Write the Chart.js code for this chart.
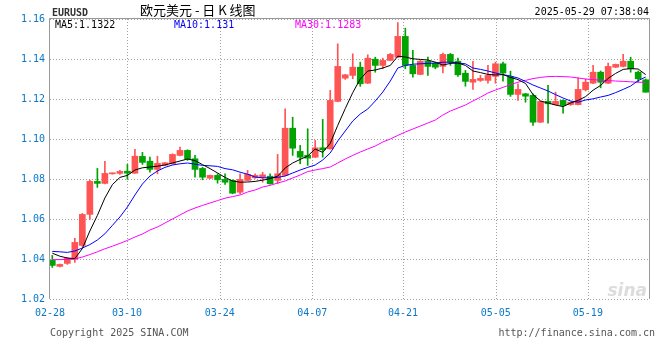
<!DOCTYPE html>
<html>
<head>
<meta charset="utf-8">
<script src="https://cdn.jsdelivr.net/npm/chart.js@4.4.1/dist/chart.umd.min.js"></script>
<style>
  html, body { margin: 0; padding: 0; background: #fff; }
</style>
</head>
<body>
<canvas id="kline" width="660" height="360"></canvas>
<script>
// daily candles, 02-28 .. 05-29
const opens = [1.0393,1.0363,1.0378,1.0398,1.0468,1.0623,1.0788,1.0778,1.0826,1.0828,
  1.0839,1.0829,1.0913,1.0889,1.0848,1.0869,1.0876,1.0918,1.0943,1.0901,
  1.0853,1.0804,1.0818,1.0798,1.0793,1.0734,1.0793,1.0806,1.0809,1.0814,
  1.0793,1.0818,1.1054,1.0938,1.0918,1.0909,1.0956,1.0951,1.1188,1.1304,
  1.1318,1.1359,1.1279,1.1399,1.1368,1.1393,1.1409,1.1513,1.1368,1.1323,
  1.1389,1.1379,1.1363,1.1423,1.1389,1.1329,1.1284,1.1293,1.1293,1.1313,
  1.1376,1.1309,1.1223,1.1226,1.1218,1.1084,1.1188,1.1172,1.1193,1.1172,
  1.1172,1.1246,1.1279,1.1334,1.1279,1.1359,1.1363,1.1389,1.1334,1.1296];
const highs = [1.0418,1.0375,1.0408,1.0503,1.0628,1.0793,1.0853,1.0888,1.0830,1.0843,
  1.0873,1.0948,1.0933,1.0909,1.0914,1.0883,1.0926,1.0959,1.0946,1.0918,
  1.0859,1.0820,1.0826,1.0826,1.0796,1.0826,1.0843,1.0826,1.0834,1.0826,
  1.0923,1.1151,1.1109,1.0968,1.1051,1.0993,1.1098,1.1243,1.1476,1.1323,
  1.1426,1.1384,1.1421,1.1409,1.1404,1.1428,1.1582,1.1554,1.1443,1.1394,
  1.1409,1.1384,1.1429,1.1428,1.1404,1.1343,1.1388,1.1318,1.1368,1.1384,
  1.1384,1.1339,1.1276,1.1228,1.1226,1.1190,1.1268,1.1234,1.1196,1.1186,
  1.1306,1.1300,1.1368,1.1340,1.1379,1.1375,1.1423,1.1409,1.1340,1.1300];
const lows = [1.0358,1.0360,1.0373,1.0383,1.0463,1.0598,1.0758,1.0775,1.0824,1.0823,
  1.0798,1.0828,1.0873,1.0834,1.0826,1.0867,1.0874,1.0916,1.0893,1.0809,
  1.0796,1.0802,1.0779,1.0773,1.0726,1.0726,1.0791,1.0803,1.0784,1.0774,
  1.0776,1.0816,1.0918,1.0876,1.0868,1.0907,1.0909,1.0949,1.1186,1.1298,
  1.1301,1.1263,1.1277,1.1334,1.1351,1.1391,1.1407,1.1351,1.1309,1.1321,
  1.1318,1.1351,1.1331,1.1368,1.1313,1.1264,1.1248,1.1288,1.1279,1.1279,
  1.1289,1.1213,1.1193,1.1184,1.1068,1.1082,1.1079,1.1170,1.1129,1.1168,
  1.1170,1.1240,1.1277,1.1256,1.1277,1.1357,1.1361,1.1334,1.1284,1.1234];
const closes = [1.0368,1.0373,1.0403,1.0483,1.0623,1.0788,1.0778,1.0828,1.0830,1.0838,
  1.0829,1.0914,1.0883,1.0848,1.0878,1.0881,1.0923,1.0943,1.0901,1.0848,
  1.0809,1.0818,1.0796,1.0784,1.0729,1.0798,1.0823,1.0818,1.0821,1.0776,
  1.0826,1.1054,1.0954,1.0909,1.0904,1.0956,1.0946,1.1193,1.1363,1.1321,
  1.1359,1.1276,1.1404,1.1368,1.1393,1.1423,1.1513,1.1368,1.1326,1.1389,
  1.1363,1.1359,1.1423,1.1384,1.1321,1.1288,1.1298,1.1303,1.1318,1.1376,
  1.1330,1.1223,1.1248,1.1214,1.1084,1.1188,1.1176,1.1188,1.1168,1.1184,
  1.1248,1.1284,1.1334,1.1284,1.1363,1.1373,1.1389,1.1351,1.1301,1.1234];

const ma5 = [1.0429,1.0414,1.0405,1.0402,1.0452,1.0540,1.0618,1.0705,1.0772,1.0808,
  1.0818,1.0845,1.0856,1.0860,1.0864,1.0870,1.0880,1.0890,1.0900,1.0892,
  1.0872,1.0852,1.0830,1.0808,1.0790,1.0784,1.0785,1.0788,1.0794,1.0802,
  1.0814,1.0855,1.0880,1.0898,1.0915,1.0950,1.0933,1.0978,1.1068,1.1152,
  1.1232,1.1300,1.1340,1.1345,1.1355,1.1368,1.1414,1.1410,1.1401,1.1398,
  1.1395,1.1384,1.1370,1.1378,1.1380,1.1368,1.1340,1.1332,1.1323,1.1320,
  1.1322,1.1308,1.1297,1.1278,1.1222,1.1190,1.1180,1.1170,1.1162,1.1180,
  1.1193,1.1212,1.1244,1.1268,1.1303,1.1328,1.1348,1.1352,1.1350,1.1322];
const ma10 = [1.0438,1.0436,1.0433,1.0440,1.0455,1.0472,1.0495,1.0526,1.0568,1.0610,
  1.0660,1.0720,1.0775,1.0815,1.0840,1.0858,1.0870,1.0876,1.0880,1.0874,
  1.0868,1.0866,1.0863,1.0852,1.0846,1.0834,1.0824,1.0810,1.0806,1.0806,
  1.0808,1.0815,1.0830,1.0845,1.0858,1.0870,1.0895,1.0930,1.0990,1.1040,
  1.1090,1.1125,1.1150,1.1190,1.1235,1.1290,1.1355,1.1368,1.1374,1.1376,
  1.1378,1.1380,1.1384,1.1384,1.1380,1.1376,1.1355,1.1348,1.1340,1.1330,
  1.1322,1.1315,1.1305,1.1288,1.1270,1.1255,1.1240,1.1222,1.1205,1.1190,
  1.1184,1.1195,1.1201,1.1210,1.1218,1.1232,1.1248,1.1265,1.1292,1.1310];
const ma30 = [1.0397,1.0397,1.0398,1.0400,1.0410,1.0422,1.0436,1.0451,1.0464,1.0478,
  1.0493,1.0510,1.0525,1.0545,1.0560,1.0580,1.0600,1.0620,1.0640,1.0655,
  1.0668,1.0680,1.0692,1.0704,1.0712,1.0720,1.0735,1.0745,1.0760,1.0768,
  1.0780,1.0790,1.0805,1.0820,1.0837,1.0845,1.0852,1.0860,1.0880,1.0900,
  1.0918,1.0935,1.0950,1.0965,1.0985,1.1000,1.1018,1.1035,1.1050,1.1065,
  1.1080,1.1095,1.1120,1.1140,1.1155,1.1170,1.1190,1.1209,1.1230,1.1245,
  1.1258,1.1272,1.1284,1.1293,1.1302,1.1308,1.1312,1.1313,1.1312,1.1310,
  1.1305,1.1300,1.1297,1.1294,1.1292,1.1290,1.1288,1.1286,1.1284,1.1283];

// date labels along the bottom, and where they sit on the candle index axis
const tickLabels = ['02-28','03-10','03-24','04-07','04-21','05-05','05-19'];
const tickPos = [-0.3, 9.95, 22.3, 34.6, 46.7, 59.05, 71.3];
const yTicks = [1.02, 1.04, 1.06, 1.08, 1.10, 1.12, 1.14, 1.16];

const UP = '#ff5454';
const DOWN = '#00a300';
const AXIS_BLUE = '#0a78c8';
const MONO = '"DejaVu Sans Mono", "Liberation Mono", monospace';

const candleColors = closes.map((c, i) => c >= opens[i] ? UP : DOWN);
const wicks = lows.map((l, i) => ({ x: i, y: [l, highs[i]] }));
const bodies = opens.map((o, i) => ({ x: i, y: [o, closes[i]] }));
const toPts = arr => arr.map((v, i) => ({ x: i, y: v }));

// dotted grid, frame, header, legend and footer texts
const decor = {
  id: 'decor',
  beforeDatasetsDraw(chart) {
    const { ctx, chartArea: a, scales } = chart;
    ctx.save();
    ctx.strokeStyle = '#a0a0a0';
    ctx.lineWidth = 1;
    ctx.setLineDash([1, 2]);
    ctx.beginPath();
    yTicks.forEach(v => {
      const y = Math.round(scales.y.getPixelForValue(v)) + 0.5;
      ctx.moveTo(a.left, y);
      ctx.lineTo(a.right, y);
    });
    tickPos.slice(1).forEach(v => {
      const x = Math.round(scales.x.getPixelForValue(v)) + 0.5;
      ctx.moveTo(x, a.top);
      ctx.lineTo(x, a.bottom);
    });
    ctx.stroke();
    ctx.setLineDash([]);

    ctx.fillStyle = '#dcdcdc';
    ctx.font = 'italic bold 17px "DejaVu Sans", sans-serif';
    ctx.textAlign = 'right';
    ctx.textBaseline = 'alphabetic';
    ctx.fillText('sina', a.right - 2, a.bottom - 3);
    ctx.restore();
  },
  afterDatasetsDraw(chart) {
    const { ctx, chartArea: a } = chart;
    ctx.save();
    ctx.strokeStyle = '#999';
    ctx.lineWidth = 1;
    ctx.beginPath();
    ctx.moveTo(a.left - 0.5, a.bottom);
    ctx.lineTo(a.left - 0.5, a.top - 0.5);
    ctx.lineTo(a.right + 0.5, a.top - 0.5);
    ctx.lineTo(a.right + 0.5, a.bottom);
    ctx.stroke();

    ctx.textBaseline = 'alphabetic';
    ctx.font = 'bold 10px ' + MONO;
    ctx.fillStyle = '#333';
    ctx.textAlign = 'left';
    ctx.fillText('EURUSD', 52, 16);

    ctx.font = '13px "Noto Sans CJK SC", sans-serif';
    ctx.fillStyle = '#000';
    ctx.fillText('欧元美元 - 日 K 线图', 140, 15);

    ctx.font = '10px ' + MONO;
    ctx.textAlign = 'right';
    ctx.fillText('2025-05-29 07:38:04', 649, 15);

    ctx.textAlign = 'left';
    ctx.fillStyle = '#000';
    ctx.fillText('MA5:1.1322', 55, 28);
    ctx.fillStyle = '#0000ff';
    ctx.fillText('MA10:1.131', 174, 28);
    ctx.fillStyle = '#ff00ff';
    ctx.fillText('MA30:1.1283', 295, 28);

    ctx.fillStyle = '#555';
    ctx.fillText('Copyright 2025 SINA.COM', 50, 336);
    ctx.textAlign = 'right';
    ctx.fillText('http://finance.sina.com.cn', 655, 336);
    ctx.restore();
  }
};

new Chart(document.getElementById('kline'), {
  type: 'bar',
  data: {
    datasets: [
      { type: 'line', data: toPts(ma5), borderColor: '#000', borderWidth: 1, pointRadius: 0, tension: 0, order: 0 },
      { type: 'line', data: toPts(ma10), borderColor: '#0000ff', borderWidth: 1, pointRadius: 0, tension: 0, order: 0 },
      { type: 'line', data: toPts(ma30), borderColor: '#ff00ff', borderWidth: 1, pointRadius: 0, tension: 0, order: 0 },
      { data: wicks, backgroundColor: candleColors, barThickness: 1, grouped: false, order: 2 },
      { data: bodies, backgroundColor: candleColors, barThickness: 6, minBarLength: 1, grouped: false, order: 1 }
    ]
  },
  options: {
    responsive: false,
    animation: false,
    layout: { padding: { top: 19, right: 11, left: 0, bottom: 0 } },
    plugins: { legend: { display: false }, tooltip: { enabled: false } },
    scales: {
      x: {
        type: 'linear',
        min: -0.306,
        max: 79.44,
        offset: false,
        afterBuildTicks: s => { s.ticks = tickPos.map(v => ({ value: v })); },
        afterFit: s => { s.height = 61; },
        ticks: {
          autoSkip: false, maxRotation: 0, padding: 8,
          color: AXIS_BLUE, font: { family: MONO, size: 10 },
          callback: (v, i) => tickLabels[i]
        },
        grid: { display: false, drawTicks: false },
        border: { display: false }
      },
      y: {
        min: 1.02,
        max: 1.16,
        afterBuildTicks: s => { s.ticks = yTicks.map(v => ({ value: v })); },
        afterFit: s => { s.width = 50; },
        ticks: {
          padding: 5,
          color: AXIS_BLUE, font: { family: MONO, size: 10 },
          callback: v => v.toFixed(2)
        },
        grid: { display: false, drawTicks: false },
        border: { display: false }
      }
    }
  },
  plugins: [decor]
});
</script>
</body>
</html>
